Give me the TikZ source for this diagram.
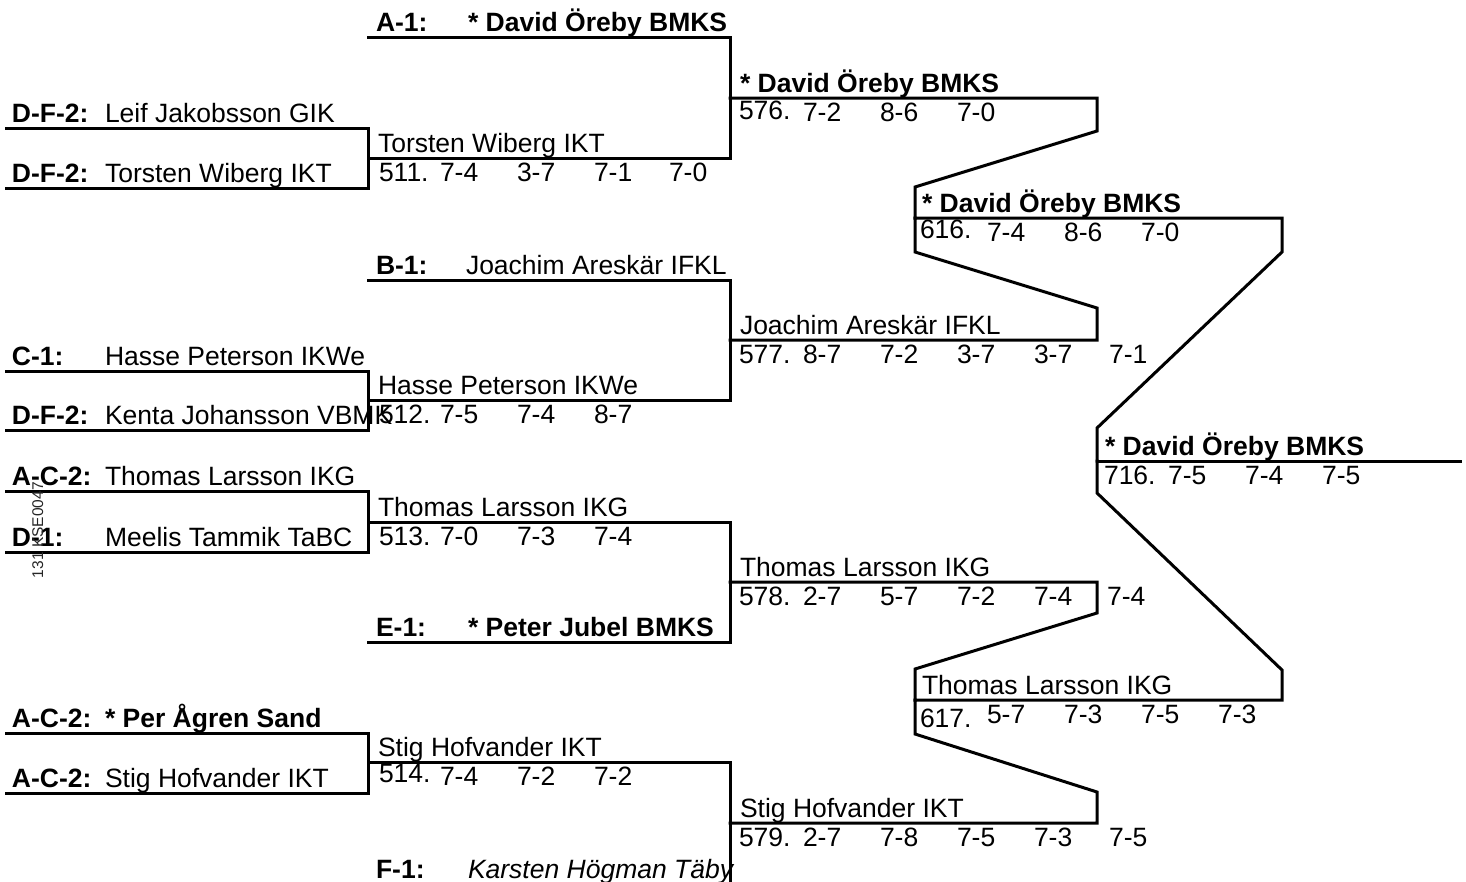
\documentclass[tikz,border=0pt]{standalone}
\usepackage{fontspec}
\setmainfont{Liberation Sans}
\newcommand{\mfs}{\fontsize{26.5}{31}\selectfont}
\newcommand{\sfs}{\fontsize{15.5}{18}\selectfont}
\tikzset{
  every node/.style={inner sep=0pt, outer sep=0pt, anchor=base west},
  tx/.style={font=\mfs},
  bt/.style={font=\mfs\bfseries},
  it/.style={font=\mfs\itshape},
  ln/.style={line width=3pt, line join=miter, line cap=rect},
}
\begin{document}
\begin{tikzpicture}[x=1pt,y=-1pt]
\clip (0,0) rectangle (1466,881);
\fill[white] (0,0) rectangle (1466,881);

% ---------- coordinates ----------
% round 1
\coordinate (p1a) at (6,128);  \coordinate (p1b) at (6,188);
\coordinate (p1c) at (368,128); \coordinate (p1d) at (368,188); \coordinate (p1m) at (368,158);
\coordinate (p2a) at (6,371);  \coordinate (p2b) at (6,430);
\coordinate (p2c) at (368,371); \coordinate (p2d) at (368,430); \coordinate (p2m) at (368,400);
\coordinate (p3a) at (6,491);  \coordinate (p3b) at (6,552);
\coordinate (p3c) at (368,491); \coordinate (p3d) at (368,552); \coordinate (p3m) at (368,522);
\coordinate (p4a) at (6,733);  \coordinate (p4b) at (6,793);
\coordinate (p4c) at (368,733); \coordinate (p4d) at (368,793); \coordinate (p4m) at (368,762);
% feeders
\coordinate (fa) at (368,37);  \coordinate (fae) at (730,37);
\coordinate (fb) at (368,280); \coordinate (fbe) at (730,280);
\coordinate (fe) at (368,642); \coordinate (fee) at (730,642);
\coordinate (ff) at (368,884); \coordinate (ffe) at (730,884);
% round 2 ends
\coordinate (q1) at (730,158); \coordinate (q2) at (730,400);
\coordinate (q3) at (730,522); \coordinate (q4) at (730,762);
% round 3
\coordinate (r1) at (730,98);  \coordinate (r1e) at (1097,98);  \coordinate (r1k) at (1097,131);
\coordinate (r2) at (730,340); \coordinate (r2e) at (1097,340); \coordinate (r2k) at (1097,308);
\coordinate (r3) at (730,582); \coordinate (r3e) at (1097,582); \coordinate (r3k) at (1097,613);
\coordinate (r4) at (730,823); \coordinate (r4e) at (1097,823); \coordinate (r4k) at (1097,792);
% round 4
\coordinate (s1) at (915,218); \coordinate (s1e) at (1282,218);
\coordinate (s1t) at (915,187); \coordinate (s1b) at (915,252); \coordinate (s1k) at (1282,252);
\coordinate (s2) at (915,700); \coordinate (s2e) at (1282,700);
\coordinate (s2t) at (915,669); \coordinate (s2b) at (915,734); \coordinate (s2k) at (1282,670);
% round 5
\coordinate (t1) at (1097,461); \coordinate (t1e) at (1460,461);
\coordinate (t1t) at (1097,428); \coordinate (t1b) at (1097,493);

% ---------- lines ----------
\draw[ln] (p1a) -- (p1c) -- (p1d) -- (p1b);
\draw[ln] (p2a) -- (p2c) -- (p2d) -- (p2b);
\draw[ln] (p3a) -- (p3c) -- (p3d) -- (p3b);
\draw[ln] (p4a) -- (p4c) -- (p4d) -- (p4b);
\draw[ln] (p1m) -- (q1) -- (fae) -- (fa);
\draw[ln] (p2m) -- (q2) -- (fbe) -- (fb);
\draw[ln] (p3m) -- (q3) -- (fee) -- (fe);
\draw[ln] (p4m) -- (q4) -- (ffe) -- (ff);
\draw[ln] (r1) -- (r1e) -- (r1k) -- (s1t) -- (s1);
\draw[ln] (r2) -- (r2e) -- (r2k) -- (s1b) -- (s1);
\draw[ln] (r3) -- (r3e) -- (r3k) -- (s2t) -- (s2);
\draw[ln] (r4) -- (r4e) -- (r4k) -- (s2b) -- (s2);
\draw[ln] (s1) -- (s1e) -- (s1k) -- (t1t) -- (t1);
\draw[ln] (s2) -- (s2e) -- (s2k) -- (t1b) -- (t1);
\draw[ln] (t1) -- (t1e);

% ---------- round 1 texts ----------
\node[bt] (l1) at (12,122) {D-F-2:};  \node[tx] (n1) at (105,122) {Leif Jakobsson GIK};
\node[bt] (l2) at (12,182) {D-F-2:};  \node[tx] (n2) at (105,182) {Torsten Wiberg IKT};
\node[bt] (l3) at (12,365) {C-1:};    \node[tx] (n3) at (105,365) {Hasse Peterson IKWe};
\node[bt] (l4) at (12,424) {D-F-2:};  \node[tx] (n4) at (105,424) {Kenta Johansson VBMK};
\node[bt] (l5) at (12,485) {A-C-2:};  \node[tx] (n5) at (105,485) {Thomas Larsson IKG};
\node[bt] (l6) at (12,546) {D-1:};    \node[tx] (n6) at (105,546) {Meelis Tammik TaBC};
\node[bt] (l7) at (12,727) {A-C-2:};  \node[bt] (n7) at (105,727) {* Per Ågren Sand};
\node[bt] (l8) at (12,787) {A-C-2:};  \node[tx] (n8) at (105,787) {Stig Hofvander IKT};

\node[font=\sfs, rotate=90, text=black!85] (code) at (43,578) {131 KSE0047};

% ---------- feeders ----------
\node[bt] (fal) at (376,31)  {A-1:}; \node[bt] (fan) at (468,31)  {* David Öreby BMKS};
\node[bt] (fbl) at (376,274) {B-1:}; \node[tx] (fbn) at (466,274) {Joachim Areskär IFKL};
\node[bt] (fel) at (376,636) {E-1:}; \node[bt] (fen) at (468,636) {* Peter Jubel BMKS};
\node[bt] (ffl) at (376,878) {F-1:}; \node[it] (ffn) at (468,878) {Karsten Högman Täby};

% ---------- round 2 ----------
\node[tx] (w511) at (378,152) {Torsten Wiberg IKT};
\node[tx] (m511) at (379,181.5) {511.};
\node[tx] (a511) at (440,181.5) {7-4}; \node[tx] (b511) at (517,181.5) {3-7};
\node[tx] (c511) at (594,181.5) {7-1}; \node[tx] (d511) at (669,181.5) {7-0};

\node[tx] (w512) at (378,394) {Hasse Peterson IKWe};
\node[tx] (m512) at (379,423.5) {512.};
\node[tx] (a512) at (440,423.5) {7-5}; \node[tx] (b512) at (517,423.5) {7-4};
\node[tx] (c512) at (594,423.5) {8-7};

\node[tx] (w513) at (378,516) {Thomas Larsson IKG};
\node[tx] (m513) at (379,545.5) {513.};
\node[tx] (a513) at (440,545.5) {7-0}; \node[tx] (b513) at (517,545.5) {7-3};
\node[tx] (c513) at (594,545.5) {7-4};

\node[tx] (w514) at (378,756) {Stig Hofvander IKT};
\node[tx] (m514) at (379,782.5) {514.};
\node[tx] (a514) at (440,785.5) {7-4}; \node[tx] (b514) at (517,785.5) {7-2};
\node[tx] (c514) at (594,785.5) {7-2};

% ---------- round 3 ----------
\node[bt] (w576) at (740,92) {* David Öreby BMKS};
\node[tx] (m576) at (739,119.5) {576.};
\node[tx] (a576) at (803,121.5) {7-2}; \node[tx] (b576) at (880,121.5) {8-6};
\node[tx] (c576) at (957,121.5) {7-0};

\node[tx] (w577) at (740,334) {Joachim Areskär IFKL};
\node[tx] (m577) at (739,363.5) {577.};
\node[tx] (a577) at (803,363.5) {8-7}; \node[tx] (b577) at (880,363.5) {7-2};
\node[tx] (c577) at (957,363.5) {3-7}; \node[tx] (d577) at (1034,363.5) {3-7};
\node[tx] (e577) at (1109,363.5) {7-1};

\node[tx] (w578) at (740,576) {Thomas Larsson IKG};
\node[tx] (m578) at (739,605.5) {578.};
\node[tx] (a578) at (803,605.5) {2-7}; \node[tx] (b578) at (880,605.5) {5-7};
\node[tx] (c578) at (957,605.5) {7-2}; \node[tx] (d578) at (1034,605.5) {7-4};
\node[tx] (e578) at (1107,605.5) {7-4};

\node[tx] (w579) at (740,817) {Stig Hofvander IKT};
\node[tx] (m579) at (739,846.5) {579.};
\node[tx] (a579) at (803,846.5) {2-7}; \node[tx] (b579) at (880,846.5) {7-8};
\node[tx] (c579) at (957,846.5) {7-5}; \node[tx] (d579) at (1034,846.5) {7-3};
\node[tx] (e579) at (1109,846.5) {7-5};

% ---------- round 4 ----------
\node[bt] (w616) at (922,212) {* David Öreby BMKS};
\node[tx] (m616) at (920,238.5) {616.};
\node[tx] (a616) at (987,241.5) {7-4}; \node[tx] (b616) at (1064,241.5) {8-6};
\node[tx] (c616) at (1141,241.5) {7-0};

\node[tx] (w617) at (922,694) {Thomas Larsson IKG};
\node[tx] (m617) at (920,727.5) {617.};
\node[tx] (a617) at (987,723.5) {5-7}; \node[tx] (b617) at (1064,723.5) {7-3};
\node[tx] (c617) at (1141,723.5) {7-5}; \node[tx] (d617) at (1218,723.5) {7-3};

% ---------- round 5 ----------
\node[bt] (w716) at (1105,455) {* David Öreby BMKS};
\node[tx] (m716) at (1104,484.5) {716.};
\node[tx] (a716) at (1168,484.5) {7-5}; \node[tx] (b716) at (1245,484.5) {7-4};
\node[tx] (c716) at (1322,484.5) {7-5};
\end{tikzpicture}
\end{document}
